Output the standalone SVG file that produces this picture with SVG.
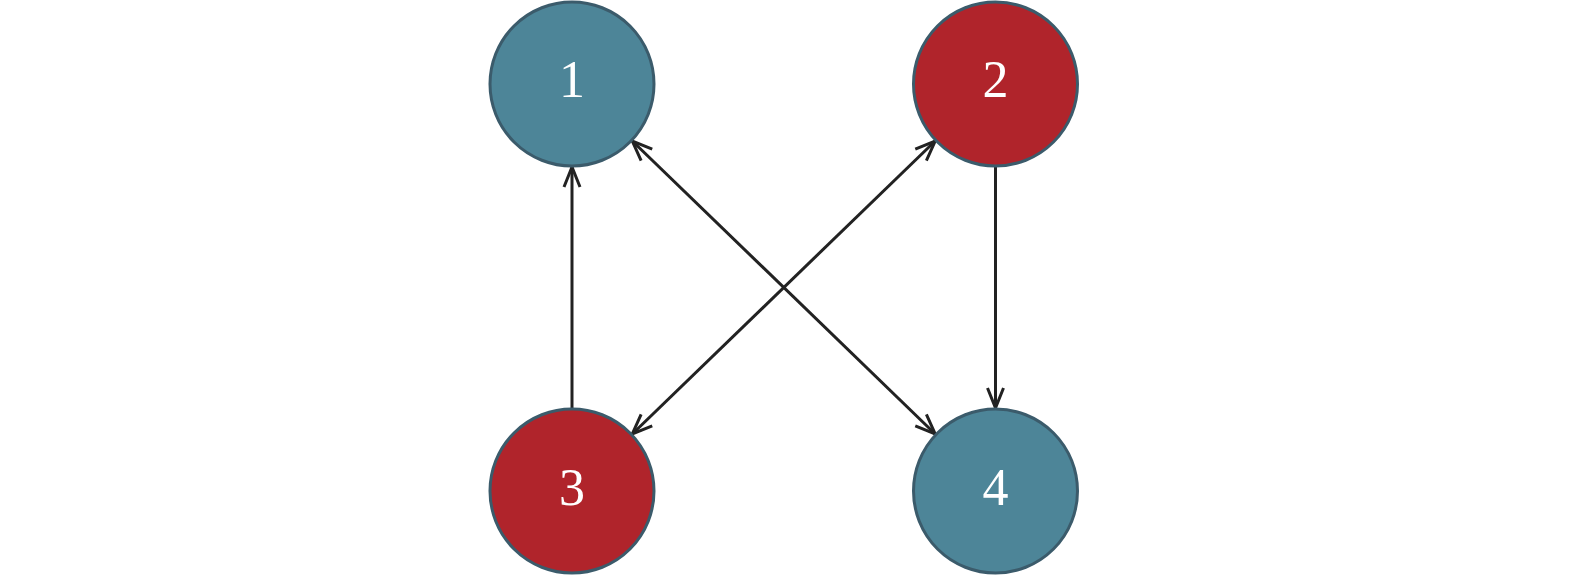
<svg xmlns="http://www.w3.org/2000/svg" width="1575" height="578" viewBox="0 0 1575 578">
<style>
.blue{fill:#4d8598;stroke:#3b5b6b;stroke-width:3}
.red{fill:#b0242b;stroke:#3b5b6b;stroke-width:3}
.lbl{font-family:"Liberation Serif",Tinos,"Times New Roman",Times,"Noto Serif",serif;font-size:52px;fill:#ffffff;text-anchor:middle}
.edge{stroke:#222222;stroke-width:3;fill:none}
</style>
<defs>
<marker id="arr" viewBox="-24 -12 28 24" markerWidth="28" markerHeight="24" refX="0" refY="0" markerUnits="userSpaceOnUse" orient="auto-start-reverse">
<path d="M-20,-8 L0,0 L-20,8" fill="none" stroke="#222222" stroke-width="3"/>
</marker>
</defs>
<rect width="1575" height="578" fill="#ffffff"/>
<g id="edges">
<line class="edge" x1="572" y1="408" x2="572" y2="167" marker-end="url(#arr)"/>
<line class="edge" x1="995.5" y1="167" x2="995.5" y2="408" marker-end="url(#arr)"/>
<line class="edge" x1="632.3" y1="141" x2="935.2" y2="434" marker-start="url(#arr)" marker-end="url(#arr)"/>
<line class="edge" x1="935.2" y1="141" x2="632.3" y2="434" marker-start="url(#arr)" marker-end="url(#arr)"/>
</g>
<g id="node1"><circle class="blue" cx="572" cy="84" r="82"/><text class="lbl" x="572" y="97">1</text></g>
<g id="node2"><circle class="red" cx="995.5" cy="84" r="82"/><text class="lbl" x="995.5" y="97">2</text></g>
<g id="node3"><circle class="red" cx="572" cy="491" r="82"/><text class="lbl" x="572" y="505">3</text></g>
<g id="node4"><circle class="blue" cx="995.5" cy="491" r="82"/><text class="lbl" x="995.5" y="505">4</text></g>
</svg>
